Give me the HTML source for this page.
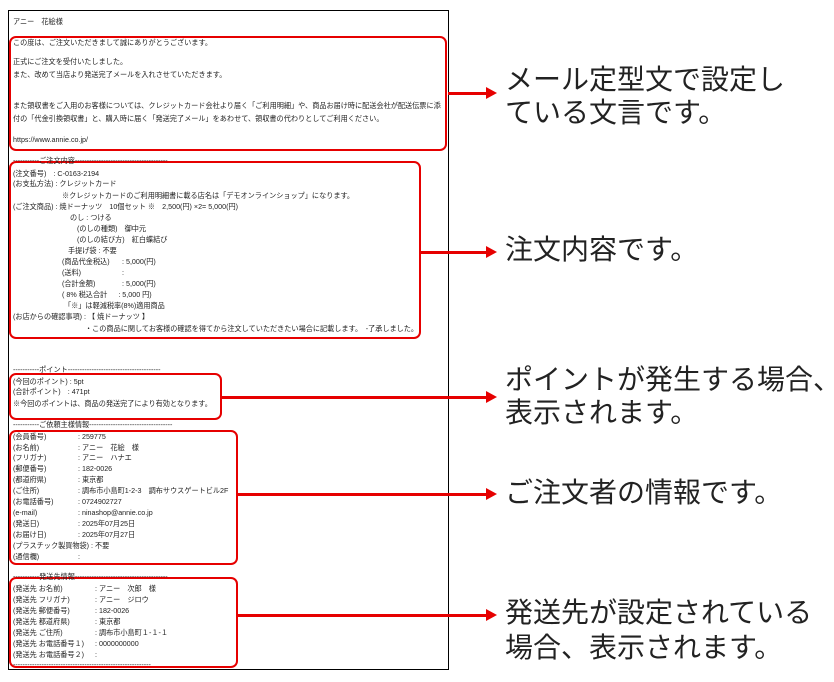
<!DOCTYPE html>
<html><head><meta charset="utf-8"><style>
*{margin:0;padding:0;box-sizing:border-box}
body{width:834px;height:682px;background:#fff;position:relative;overflow:hidden;font-family:"Liberation Sans","Noto Sans CJK JP",sans-serif}
.frame{position:absolute;left:8px;top:10px;width:441px;height:660px;border:1px solid #000}
.rb{position:absolute;border:2px solid #e60000;border-radius:7px}
.t{position:absolute;font-size:7.15px;line-height:8px;color:#222;white-space:pre}
.big{position:absolute;left:505px;font-size:28px;line-height:33px;color:#222;white-space:nowrap}
.ln{position:absolute;height:3px;background:#e60000}
.ah{position:absolute;width:0;height:0;border-top:6px solid transparent;border-bottom:6px solid transparent;border-left:11px solid #e60000}
</style></head><body>
<div class="frame"></div>
<div class="rb" style="left:9px;top:36px;width:438px;height:115px"></div>
<div class="rb" style="left:9px;top:161px;width:412px;height:178px"></div>
<div class="rb" style="left:9px;top:373px;width:213px;height:47px"></div>
<div class="rb" style="left:9px;top:430px;width:229px;height:135px"></div>
<div class="rb" style="left:9px;top:577px;width:229px;height:91px"></div>

<div class="ln" style="left:448px;top:92px;width:40px"></div><div class="ah" style="left:486px;top:87px"></div>
<div class="ln" style="left:421px;top:251px;width:67px"></div><div class="ah" style="left:486px;top:246px"></div>
<div class="ln" style="left:222px;top:396px;width:266px"></div><div class="ah" style="left:486px;top:391px"></div>
<div class="ln" style="left:238px;top:493px;width:250px"></div><div class="ah" style="left:486px;top:488px"></div>
<div class="ln" style="left:238px;top:614px;width:250px"></div><div class="ah" style="left:486px;top:609px"></div>

<div class="big" style="top:63px">メール定型文で設定し</div>
<div class="big" style="top:96px">ている文言です。</div>
<div class="big" style="top:233px">注文内容です。</div>
<div class="big" style="top:363px">ポイントが発生する場合、</div>
<div class="big" style="top:396px">表示されます。</div>
<div class="big" style="top:476px">ご注文者の情報です。</div>
<div class="big" style="top:596px">発送先が設定されている</div>
<div class="big" style="top:631px">場合、表示されます。</div>

<div class="t" style="left:13px;top:18px">アニー　花絵様</div>
<div class="t" style="left:13px;top:39px">この度は、ご注文いただきまして誠にありがとうございます。</div>
<div class="t" style="left:13px;top:58px">正式にご注文を受付いたしました。</div>
<div class="t" style="left:13px;top:71px">また、改めて当店より発送完了メールを入れさせていただきます。</div>
<div class="t" style="left:13px;top:102px">また領収書をご入用のお客様については、クレジットカード会社より届く「ご利用明細」や、商品お届け時に配送会社が配送伝票に添</div>
<div class="t" style="left:13px;top:115px">付の「代金引換領収書」と、購入時に届く「発送完了メール」をあわせて、領収書の代わりとしてご利用ください。</div>
<div class="t" style="left:13px;top:136px">https://www.annie.co.jp/</div>

<div class="t" style="left:13px;top:157px">-----------ご注文内容---------------------------------------</div>
<div class="t" style="left:13px;top:170px">(注文番号)　: C-0163-2194</div>
<div class="t" style="left:13px;top:180px">(お支払方法) : クレジットカード</div>
<div class="t" style="left:62px;top:192px">※クレジットカードのご利用明細書に載る店名は「デモオンラインショップ」になります。</div>
<div class="t" style="left:13px;top:203px">(ご注文商品) : 焼ドーナッツ　10個セット ※　2,500(円) ×2= 5,000(円)</div>
<div class="t" style="left:70px;top:214px">のし : つける</div>
<div class="t" style="left:77px;top:225px">(のしの種類)　御中元</div>
<div class="t" style="left:77px;top:236px">(のしの結び方)　紅白蝶結び</div>
<div class="t" style="left:68px;top:247px">手提げ袋 : 不要</div>
<div class="t" style="left:62px;top:258px">(商品代金税込)</div><div class="t" style="left:122px;top:258px">: 5,000(円)</div>
<div class="t" style="left:62px;top:269px">(送料)</div><div class="t" style="left:122px;top:269px">:</div>
<div class="t" style="left:62px;top:280px">(合計金額)</div><div class="t" style="left:122px;top:280px">: 5,000(円)</div>
<div class="t" style="left:62px;top:291px">( 8% 税込合計　  : 5,000 円)</div>
<div class="t" style="left:64px;top:302px">「※」は軽減税率(8%)適用商品</div>
<div class="t" style="left:13px;top:313px">(お店からの確認事項) : 【 焼ドーナッツ 】</div>
<div class="t" style="left:85px;top:325px">・この商品に関してお客様の確認を得てから注文していただきたい場合に記載します。　-了承しました。</div>

<div class="t" style="left:13px;top:366px">-----------ポイント---------------------------------------</div>
<div class="t" style="left:13px;top:378px">(今回のポイント) : 5pt</div>
<div class="t" style="left:13px;top:388px">(合計ポイント)　: 471pt</div>
<div class="t" style="left:13px;top:400px">※今回のポイントは、商品の発送完了により有効となります。</div>
<div class="t" style="left:13px;top:421px">-----------ご依頼主様情報-----------------------------------</div>
<div class="t" style="left:13px;top:433px">(会員番号)</div><div class="t" style="left:78px;top:433px">: 259775</div>
<div class="t" style="left:13px;top:444px">(お名前)</div><div class="t" style="left:78px;top:444px">: アニー　花絵　様</div>
<div class="t" style="left:13px;top:454px">(フリガナ)</div><div class="t" style="left:78px;top:454px">: アニー　ハナエ</div>
<div class="t" style="left:13px;top:465px">(郵便番号)</div><div class="t" style="left:78px;top:465px">: 182-0026</div>
<div class="t" style="left:13px;top:476px">(都道府県)</div><div class="t" style="left:78px;top:476px">: 東京都</div>
<div class="t" style="left:13px;top:487px">(ご住所)</div><div class="t" style="left:78px;top:487px">: 調布市小島町1-2-3　調布サウスゲートビル2F</div>
<div class="t" style="left:13px;top:498px">(お電話番号)</div><div class="t" style="left:78px;top:498px">: 0724902727</div>
<div class="t" style="left:13px;top:509px">(e-mail)</div><div class="t" style="left:78px;top:509px">: ninashop@annie.co.jp</div>
<div class="t" style="left:13px;top:520px">(発送日)</div><div class="t" style="left:78px;top:520px">: 2025年07月25日</div>
<div class="t" style="left:13px;top:531px">(お届け日)</div><div class="t" style="left:78px;top:531px">: 2025年07月27日</div>
<div class="t" style="left:13px;top:542px">(プラスチック製買物袋) : 不要</div>
<div class="t" style="left:13px;top:553px">(通信欄)</div><div class="t" style="left:78px;top:553px">:</div>

<div class="t" style="left:13px;top:573px">-----------発送先情報---------------------------------------</div>
<div class="t" style="left:13px;top:585px">(発送先 お名前)</div><div class="t" style="left:95px;top:585px">: アニー　次郎　様</div>
<div class="t" style="left:13px;top:596px">(発送先 フリガナ)</div><div class="t" style="left:95px;top:596px">: アニー　ジロウ</div>
<div class="t" style="left:13px;top:607px">(発送先 郵便番号)</div><div class="t" style="left:95px;top:607px">: 182-0026</div>
<div class="t" style="left:13px;top:618px">(発送先 都道府県)</div><div class="t" style="left:95px;top:618px">: 東京都</div>
<div class="t" style="left:13px;top:629px">(発送先 ご住所)</div><div class="t" style="left:95px;top:629px">: 調布市小島町１-１-１</div>
<div class="t" style="left:13px;top:640px">(発送先 お電話番号１)</div><div class="t" style="left:95px;top:640px">: 0000000000</div>
<div class="t" style="left:13px;top:651px">(発送先 お電話番号２)</div><div class="t" style="left:95px;top:651px">:</div>
<div class="t" style="left:13px;top:661px">----------------------------------------------------------</div>
</body></html>
